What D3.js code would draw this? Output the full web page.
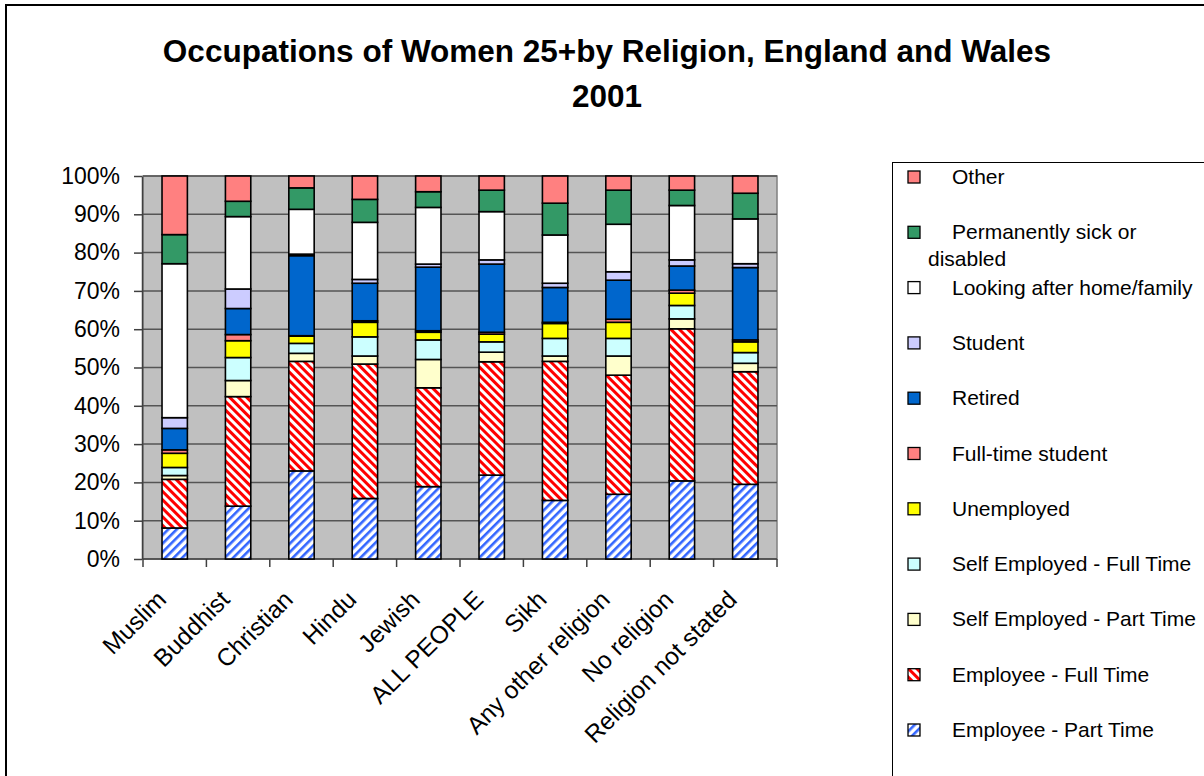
<!DOCTYPE html>
<html>
<head>
<meta charset="utf-8">
<script src="https://cdn.jsdelivr.net/npm/d3@7"></script>
<style>
  body { margin: 0; background: #fff; }
  text { font-family: "Liberation Sans", Arial, sans-serif; fill: #000; }
</style>
</head>
<body>
<div id="chart"></div>
<script>
// categories along the x axis
var religions = ["Muslim", "Buddhist", "Christian", "Hindu", "Jewish", "ALL PEOPLE",
  "Sikh", "Any other religion", "No religion", "Religion not stated"];

// share of women 25+ in each activity (%), bottom of the stack first
var employeePartTime = [8.1, 13.8, 23.0, 15.8, 18.9, 21.9, 15.3, 16.9, 20.4, 19.5];
var employeeFullTime = [12.7, 28.6, 28.6, 35.1, 25.8, 29.6, 36.3, 31.1, 39.7, 29.4];
var selfEmpPartTime  = [1.0, 4.2, 2.1, 2.1, 7.4, 2.5, 1.4, 5.0, 2.6, 2.2];
var selfEmpFullTime  = [2.1, 6.0, 2.6, 5.0, 5.1, 2.7, 4.6, 4.6, 3.5, 2.8];
var unemployed       = [3.7, 4.4, 1.9, 3.8, 2.0, 2.0, 3.9, 4.2, 3.2, 2.8];
var fullTimeStudent  = [0.9, 1.6, 0.1, 0.4, 0.4, 0.5, 0.3, 0.8, 0.8, 0.5];
var retired          = [5.6, 6.8, 20.9, 9.8, 16.6, 17.8, 9.1, 10.2, 6.3, 18.9];
var student          = [2.8, 5.1, 0.4, 1.0, 0.8, 1.1, 1.1, 2.2, 1.6, 1.0];
var lookingAfterHome = [40.2, 18.9, 11.7, 14.9, 14.8, 12.6, 12.6, 12.4, 14.2, 11.7];
var permSick         = [7.6, 4.0, 5.6, 6.0, 4.1, 5.6, 8.3, 8.9, 4.0, 6.7];
var other            = [15.3, 6.6, 3.1, 6.1, 4.1, 3.7, 7.1, 3.7, 3.7, 4.5];

var seriesKeys = ["ept", "eft", "sept", "seft", "unemp", "fts", "ret", "stu", "home", "sick", "oth"];
var seriesNames = ["Employee - Part Time", "Employee - Full Time", "Self Employed - Part Time",
  "Self Employed - Full Time", "Unemployed", "Full-time student", "Retired", "Student",
  "Looking after home/family", "Permanently sick or disabled", "Other"];
var seriesValues = [employeePartTime, employeeFullTime, selfEmpPartTime, selfEmpFullTime,
  unemployed, fullTimeStudent, retired, student, lookingAfterHome, permSick, other];

var tickValues = [0, 10, 20, 30, 40, 50, 60, 70, 80, 90, 100];

var fills = {
  ept: "url(#hatchBlue)", eft: "url(#hatchRed)", sept: "#FFFFCC", seft: "#CCFFFF",
  unemp: "#FFFF00", fts: "#FF8080", ret: "#0066CC", stu: "#CCCCFF",
  home: "#FFFFFF", sick: "#339966", oth: "#FF8080"
};

// build rows for d3.stack
var table = religions.map(function(r, i) {
  var row = { religion: r };
  seriesKeys.forEach(function(k, j) { row[k] = seriesValues[j][i]; });
  return row;
});

var W = 1204, H = 776;
var plot = { left: 143, right: 777, top: 176, bottom: 559 };

var svg = d3.select("#chart").append("svg")
  .attr("width", W)
  .attr("height", H);

var defs = svg.append("defs");
var pb = defs.append("pattern")
  .attr("id", "hatchBlue")
  .attr("patternUnits", "userSpaceOnUse")
  .attr("width", 6).attr("height", 6)
  .attr("patternTransform", "rotate(45)");
pb.append("rect").attr("width", 6).attr("height", 6).attr("fill", "#fff");
pb.append("rect").attr("width", 2.6).attr("height", 6).attr("fill", "#3366FF");

var pr = defs.append("pattern")
  .attr("id", "hatchRed")
  .attr("patternUnits", "userSpaceOnUse")
  .attr("width", 6).attr("height", 6)
  .attr("patternTransform", "rotate(-45)");
pr.append("rect").attr("width", 6).attr("height", 6).attr("fill", "#fff");
pr.append("rect").attr("width", 3).attr("height", 6).attr("fill", "#FF0000");

// outer frame
svg.append("rect")
  .attr("x", 6).attr("y", 5)
  .attr("width", W + 20).attr("height", H + 20)
  .attr("fill", "none")
  .attr("stroke", "#000")
  .attr("stroke-width", 2);

// title
var title = svg.append("text")
  .attr("text-anchor", "middle")
  .style("font-size", "31.5px")
  .style("font-weight", "bold");
title.append("tspan").attr("x", 607).attr("y", 62).text("Occupations of Women 25+by Religion, England and Wales");
title.append("tspan").attr("x", 607).attr("y", 107).text("2001");

var x = d3.scaleBand()
  .domain(religions)
  .range([plot.left, plot.right])
  .paddingInner(0.6)
  .paddingOuter(0.3);

var y = d3.scaleLinear()
  .domain([0, 100])
  .range([plot.bottom, plot.top]);

// plot background
svg.append("rect")
  .attr("x", plot.left).attr("y", plot.top)
  .attr("width", plot.right - plot.left)
  .attr("height", plot.bottom - plot.top)
  .attr("fill", "#C0C0C0")
  .attr("stroke", "#808080")
  .attr("stroke-width", 1.5);

// gridlines
svg.append("g")
  .selectAll("line")
  .data(tickValues.slice(1))
  .enter()
  .append("line")
    .attr("x1", plot.left).attr("x2", plot.right)
    .attr("y1", function(d) { return y(d); })
    .attr("y2", function(d) { return y(d); })
    .attr("stroke", "#555")
    .attr("stroke-width", 1.5);

// y axis
var gy = svg.append("g")
  .attr("transform", "translate(" + (plot.left - 1) + ",0)")
  .call(d3.axisLeft(y)
    .tickValues(tickValues)
    .tickFormat(function(d) { return d + "%"; })
    .tickSize(8)
    .tickSizeOuter(0)
    .tickPadding(14));
gy.select(".domain").attr("stroke", "#404040").attr("stroke-width", 1.5);
gy.selectAll(".tick line").attr("stroke", "#404040").attr("stroke-width", 1.5);
gy.selectAll(".tick text")
  .style("font-size", "23px")
  .style("font-family", "'Liberation Sans', Arial, sans-serif")
  .attr("fill", "#000");

// x axis ticks sit on the category boundaries
var boundaries = religions.map(function(r) { return x(r) - x.step() * 0.3; });
boundaries.push(plot.right);
svg.append("line")
  .attr("x1", plot.left).attr("x2", plot.right)
  .attr("y1", plot.bottom).attr("y2", plot.bottom)
  .attr("stroke", "#404040").attr("stroke-width", 1.5);
svg.append("g")
  .selectAll("line")
  .data(boundaries)
  .enter()
  .append("line")
    .attr("x1", function(d) { return d; })
    .attr("x2", function(d) { return d; })
    .attr("y1", plot.bottom)
    .attr("y2", plot.bottom + 8)
    .attr("stroke", "#404040")
    .attr("stroke-width", 1.5);

// rotated category labels
svg.append("g")
  .selectAll("text")
  .data(religions)
  .enter()
  .append("text")
    .attr("transform", function(d) {
      return "translate(" + (x(d) + x.bandwidth() / 2 - 7) + "," + (plot.bottom + 42) + ")rotate(-45)";
    })
    .attr("text-anchor", "end")
    .style("font-size", "24.5px")
    .text(function(d) { return d; });

// stacked bars
var stacked = d3.stack().keys(seriesKeys)(table);

svg.append("g")
  .selectAll("g")
  .data(stacked)
  .enter()
  .append("g")
    .attr("fill", function(d) { return fills[d.key]; })
  .selectAll("rect")
  .data(function(d) { return d; })
  .enter()
  .append("rect")
    .attr("x", function(d) { return x(d.data.religion); })
    .attr("y", function(d) { return y(d[1]); })
    .attr("width", x.bandwidth())
    .attr("height", function(d) { return y(d[0]) - y(d[1]); })
    .attr("stroke", "#000")
    .attr("stroke-width", 1.6);

// legend, top entry is the top of the stack
var legend = svg.append("g");
legend.append("rect")
  .attr("x", 892.5).attr("y", 162.5)
  .attr("width", 400).attr("height", 700)
  .attr("fill", "#fff")
  .attr("stroke", "#000")
  .attr("stroke-width", 1);

var legendKeys = seriesKeys.slice().reverse();
var legendNames = seriesNames.slice().reverse();
legendKeys.forEach(function(k, i) {
  var base = 184 + i * 55.3;
  legend.append("rect")
    .attr("x", 908).attr("y", base - 13)
    .attr("width", 12).attr("height", 12)
    .attr("fill", fills[k])
    .attr("stroke", "#000")
    .attr("stroke-width", 1.3);
  var t = legend.append("text").style("font-size", "21px");
  if (k === "sick") {
    t.append("tspan").attr("x", 952).attr("y", base).text("Permanently sick or");
    t.append("tspan").attr("x", 928).attr("y", base + 27).text("disabled");
  } else {
    t.attr("x", 952).attr("y", base).text(legendNames[i]);
  }
});
</script>
</body>
</html>
